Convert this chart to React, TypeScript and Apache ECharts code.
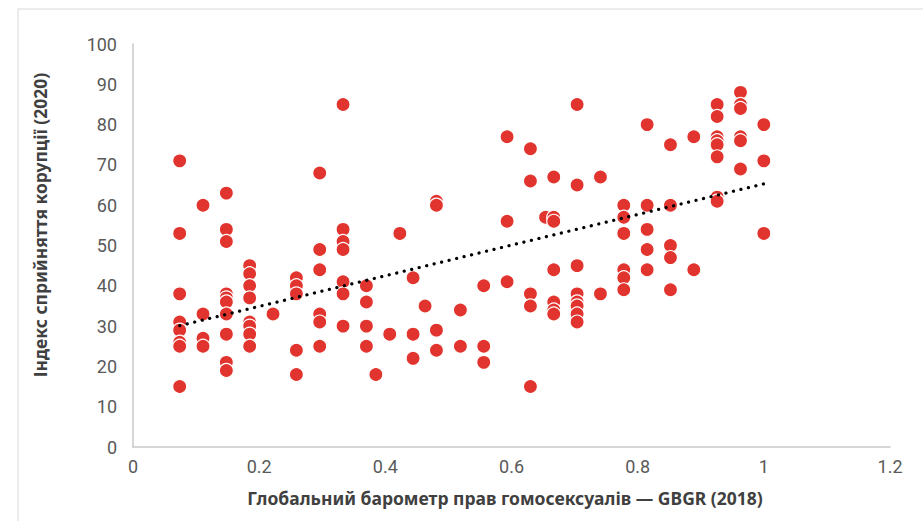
import React, { useEffect, useRef } from "react";
import * as echarts from "echarts";

// GBGR (2018) value of each country
const gbgr: number[] = [
  0.074, 0.074, 0.074, 0.074, 0.074, 0.074, 0.074, 0.074,
  0.111, 0.111, 0.111, 0.111,
  0.148, 0.148, 0.148, 0.148, 0.148, 0.148, 0.148, 0.148, 0.148, 0.148,
  0.185, 0.185, 0.185, 0.185, 0.185, 0.185, 0.185, 0.185,
  0.222,
  0.259, 0.259, 0.259, 0.259, 0.259,
  0.296, 0.296, 0.296, 0.296, 0.296, 0.296,
  0.333, 0.333, 0.333, 0.333, 0.333, 0.333, 0.333,
  0.37, 0.37, 0.37, 0.37,
  0.385,
  0.407,
  0.423,
  0.444, 0.444, 0.444,
  0.463,
  0.481, 0.481, 0.481, 0.481,
  0.519, 0.519,
  0.556, 0.556, 0.556,
  0.593, 0.593, 0.593,
  0.63, 0.63, 0.63, 0.63, 0.63,
  0.654,
  0.667, 0.667, 0.667, 0.667, 0.667, 0.667, 0.667,
  0.704, 0.704, 0.704, 0.704, 0.704, 0.704, 0.704, 0.704,
  0.741, 0.741,
  0.778, 0.778, 0.778, 0.778, 0.778, 0.778,
  0.815, 0.815, 0.815, 0.815, 0.815,
  0.852, 0.852, 0.852, 0.852, 0.852,
  0.889, 0.889,
  0.926, 0.926, 0.926, 0.926, 0.926, 0.926, 0.926, 0.926,
  0.963, 0.963, 0.963, 0.963, 0.963, 0.963,
  1.0, 1.0, 1.0,
];

// Corruption Perceptions Index (2020) of each country
const cpi: number[] = [
  71, 53, 38, 31, 29, 26, 25, 15,
  60, 33, 27, 25,
  63, 54, 51, 38, 37, 36, 33, 28, 21, 19,
  45, 43, 40, 37, 31, 30, 28, 25,
  33,
  42, 40, 38, 24, 18,
  68, 49, 44, 33, 31, 25,
  85, 54, 51, 49, 41, 38, 30,
  40, 36, 30, 25,
  18,
  28,
  53,
  42, 28, 22,
  35,
  61, 60, 29, 24,
  34, 25,
  40, 25, 21,
  77, 56, 41,
  74, 66, 38, 35, 15,
  57,
  67, 57, 56, 44, 36, 34, 33,
  85, 65, 45, 38, 36, 35, 33, 31,
  67, 38,
  60, 57, 53, 44, 42, 39,
  80, 60, 54, 49, 44,
  75, 60, 50, 47, 39,
  77, 44,
  85, 82, 77, 76, 75, 72, 62, 61,
  88, 85, 84, 77, 76, 69,
  80, 71, 53,
];

// Linear trendline endpoints
const trendX: number[] = [0.074, 1.0];
const trendY: number[] = [30.1, 65.3];

const xTitle = "Глобальний барометр прав гомосексуалів — GBGR (2018)";
const yTitle = "Індекс сприйняття корупції (2020)";

export default function App() {
  const ref = useRef<HTMLDivElement>(null);
  useEffect(() => {
    document.body.style.margin = "0";
    if (!ref.current) return;
    const chart = echarts.init(ref.current, undefined, { renderer: "svg" });
    const points = gbgr.map((x, i) => [x, cpi[i]]);
    const trend = trendX.map((x, i) => [x, trendY[i]]);
    const labelFont = {
      fontFamily: "Roboto",
      fontSize: 18,
      color: "#595959",
    };
    chart.setOption({
      animation: false,
      backgroundColor: "#ffffff",
      grid: { left: 133, top: 44, width: 757, height: 403, containLabel: false },
      xAxis: {
        type: "value",
        min: 0,
        max: 1.2,
        interval: 0.2,
        axisLine: { show: true, lineStyle: { color: "#C9C9C9", width: 1.5 } },
        axisTick: { show: false },
        splitLine: { show: false },
        axisLabel: { ...labelFont, margin: 10 },
      },
      yAxis: {
        type: "value",
        min: 0,
        max: 100,
        interval: 10,
        axisLine: { show: true, lineStyle: { color: "#C9C9C9", width: 1.5 } },
        axisTick: { show: false },
        splitLine: { show: false },
        axisLabel: { ...labelFont, margin: 16 },
      },
      graphic: [
        {
          type: "rect",
          shape: { x: 18, y: 9, width: 940, height: 560 },
          style: { fill: "none", stroke: "#D9D9D9", lineWidth: 1 },
          silent: true,
          z: -10,
        },
        {
          type: "text",
          x: 505,
          y: 498,
          style: {
            text: xTitle,
            align: "center",
            verticalAlign: "middle",
            fontFamily: "Noto Sans",
            fontWeight: "bold",
            fontSize: 17.5,
            fill: "#404040",
          },
        },
        {
          type: "text",
          x: 40,
          y: 225,
          rotation: Math.PI / 2,
          style: {
            text: yTitle,
            align: "center",
            verticalAlign: "middle",
            fontFamily: "Noto Sans",
            fontWeight: "bold",
            fontSize: 17.5,
            fill: "#404040",
          },
        },
      ],
      series: [
        {
          type: "scatter",
          data: points,
          symbol: "circle",
          symbolSize: 14,
          itemStyle: { color: "#E2342E", borderColor: "#ffffff", borderWidth: 1.2, opacity: 1 },
          z: 2,
        },
        {
          type: "line",
          data: trend,
          symbol: "none",
          lineStyle: { color: "#000000", width: 3.2, type: [0.1, 7.6], cap: "round" },
          z: 3,
        },
      ],
    });
    return () => chart.dispose();
  }, []);
  return <div ref={ref} style={{ width: 923, height: 521 }} />;
}
